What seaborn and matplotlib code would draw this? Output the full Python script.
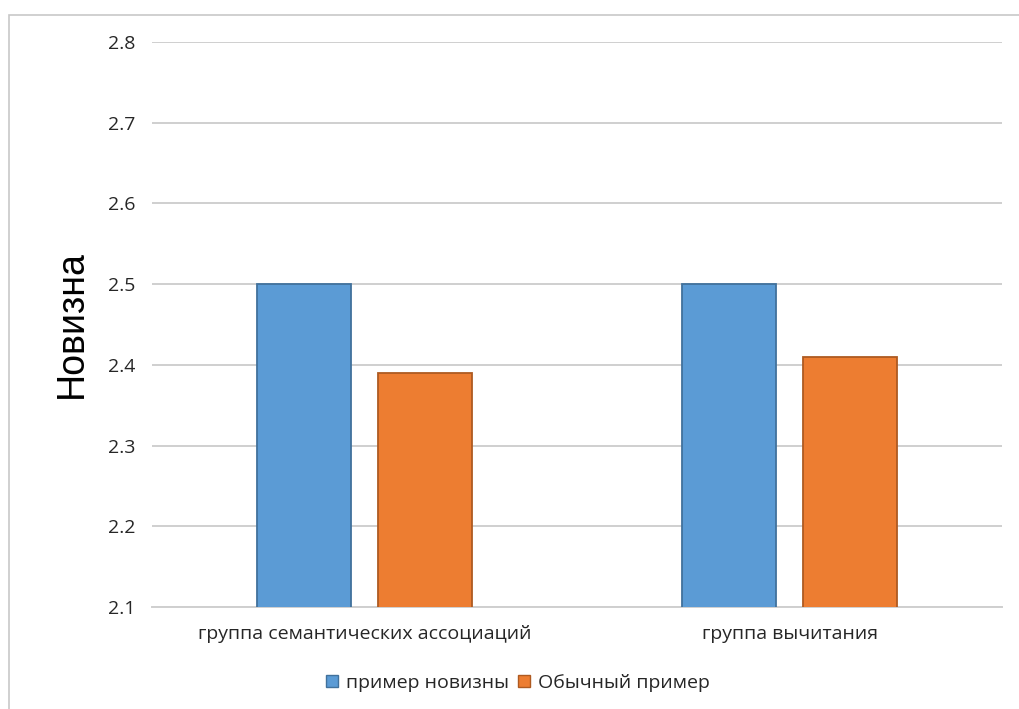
import matplotlib
matplotlib.use("Agg")
import matplotlib.pyplot as plt
import matplotlib.patches as mpatches
import seaborn as sns
import pandas as pd

groups = ["группа семантических ассоциаций", "группа вычитания"]
series_names = ["пример новизны", "Обычный пример"]
novelty_example = [2.50, 2.50]
ordinary_example = [2.39, 2.41]
y_ticks = [2.1, 2.2, 2.3, 2.4, 2.5, 2.6, 2.7, 2.8]

df = pd.DataFrame({
    "group": groups * 2,
    "series": [series_names[0]] * 2 + [series_names[1]] * 2,
    "value": novelty_example + ordinary_example,
})

sns.set_theme(style="white")
plt.rcParams["font.family"] = ["Open Sans", "DejaVu Sans"]

fig = plt.figure(figsize=(10.19, 7.09), dpi=100)
ax = fig.add_axes([152 / 1019, 1 - 607 / 709, 850 / 1019, 565 / 709])

fills = ["#5B9BD5", "#ED7D31"]
edges = ["#41719C", "#AE5A21"]

sns.barplot(data=df, x="group", y="value", hue="series", order=groups,
            hue_order=series_names, palette=fills, saturation=1,
            width=0.567, gap=0.22, ax=ax, legend=False, zorder=3)

# darker outline per series
for cont, ec in zip(ax.containers, edges):
    for bar in cont:
        bar.set_edgecolor(ec)
        bar.set_linewidth(1.3)

ax.set_ylim(2.1, 2.8)
ax.set_yticks(y_ticks)
ax.set_yticklabels([f"{v:.1f}" for v in y_ticks], fontsize=14, color="#262626")
ax.set_xlim(-0.5, 1.5)
ax.tick_params(axis="x", labelsize=14, labelcolor="#262626", pad=13, length=0)
ax.tick_params(axis="y", pad=12, length=0)
ax.grid(axis="y", color="#CFCFCF", linewidth=1.4, zorder=0)
ax.set_axisbelow(True)
for side in ["top", "right", "left"]:
    ax.spines[side].set_visible(False)
ax.spines["bottom"].set_color("#CFCFCF")
ax.spines["bottom"].set_linewidth(1.4)
ax.set_xlabel("")
ax.set_ylabel("Новизна", fontsize=27, family=["Liberation Sans", "DejaVu Sans"],
              color="black", labelpad=13)

handles = [mpatches.Patch(facecolor=f, edgecolor=e, label=n)
           for f, e, n in zip(fills, edges, series_names)]
fig.legend(handles=handles, loc="center", bbox_to_anchor=(518 / 1019, 1 - 683 / 709),
           ncol=2, frameon=False, fontsize=14, handlelength=0.62, handleheight=0.62,
           handletextpad=0.4, columnspacing=0.5, labelcolor="#262626")

# outer chart frame
fig.add_artist(mpatches.Rectangle((9 / 1019, -0.01), 1.1, 1 - 15 / 709 + 0.01,
                                  transform=fig.transFigure, fill=False,
                                  edgecolor="#C8C8C8", linewidth=1.2))

fig.savefig("out.png", dpi=100)
